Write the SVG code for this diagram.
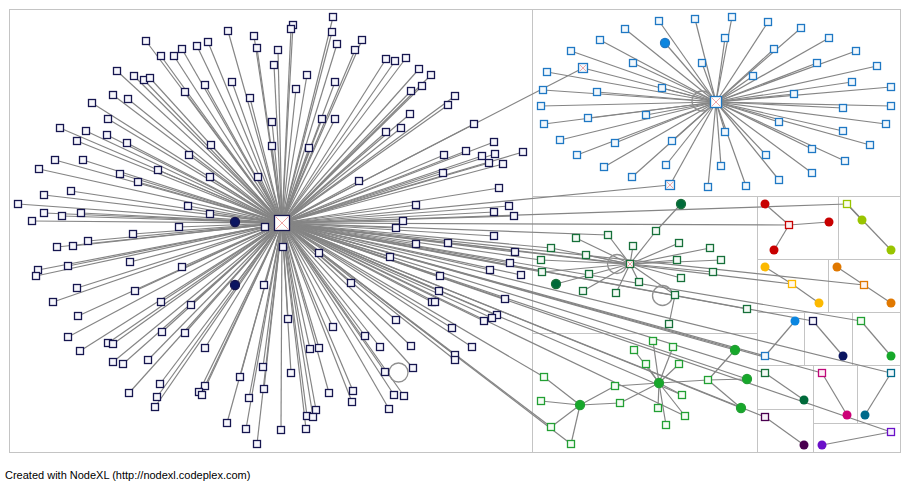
<svg xmlns="http://www.w3.org/2000/svg" xmlns:xlink="http://www.w3.org/1999/xlink" width="909" height="485" viewBox="0 0 909 485">
<style>
.b{stroke:#c4c4c4;stroke-width:1;fill:none}
.cL{fill:#f6f6fc;stroke:#16164f;stroke-width:1.3}
.cB{fill:#f2f8fd;stroke:#1f78c4;stroke-width:1.3}
.cG{fill:#f3faf5;stroke:#17703a;stroke-width:1.3}
.cP{fill:#f5fcf5;stroke:#22a034;stroke-width:1.3}
.dN{fill:#0b1561}.dB{fill:#0b86e0}.dG{fill:#006a3a}.dP{fill:#16a82a}
.x{stroke:#f0a8a8;stroke-width:1;fill:none}
.lp{fill:none;stroke:#909090;stroke-width:1.3}
text{font-family:"Liberation Sans",Arial,sans-serif;font-size:11px;fill:#000}
</style>
<defs>
<rect id="s" x="-3.5" y="-3.5" width="7" height="7"/>
<circle id="d" r="4.5"/>
</defs>
<rect width="909" height="485" fill="#fff"/>
<g id="borders" class="b">
<rect x="9.5" y="9.5" width="891" height="443"/>
<path d="M532.5 9.5V452.5M532.5 196.5H900.5M757.5 196.5V452.5M532.5 333.5H757.5M838.5 196.5V259.5M757.5 259.5H900.5M828.5 259.5V312.5M757.5 312.5H900.5M804.5 312.5V365.5M852.5 312.5V365.5M757.5 365.5H900.5M813.5 365.5V452.5M857.5 365.5V423.5M757.5 409.5H813.5M813.5 423.5H900.5"/>
</g>
<g id="connectors" stroke="#858585" stroke-width="1.2">
<line x1="282" y1="223" x2="146" y2="41"/><line x1="282" y1="223" x2="161" y2="56"/><line x1="282" y1="223" x2="174" y2="56"/><line x1="282" y1="223" x2="182" y2="49"/><line x1="282" y1="223" x2="197" y2="46"/><line x1="282" y1="223" x2="208" y2="42"/><line x1="282" y1="223" x2="228" y2="31"/><line x1="282" y1="223" x2="254" y2="36"/><line x1="282" y1="223" x2="257" y2="48"/><line x1="282" y1="223" x2="278" y2="50"/>
<line x1="282" y1="223" x2="274" y2="65"/><line x1="282" y1="223" x2="117" y2="71"/><line x1="282" y1="223" x2="134" y2="76"/><line x1="282" y1="223" x2="144" y2="80"/><line x1="282" y1="223" x2="150" y2="78"/><line x1="282" y1="223" x2="185" y2="92"/><line x1="282" y1="223" x2="205" y2="85"/><line x1="282" y1="223" x2="232" y2="82"/><line x1="282" y1="223" x2="250" y2="98"/><line x1="282" y1="223" x2="272" y2="122"/>
<line x1="282" y1="223" x2="272" y2="146"/><line x1="282" y1="223" x2="258" y2="177"/><line x1="282" y1="223" x2="113" y2="95"/><line x1="282" y1="223" x2="128" y2="99"/><line x1="282" y1="223" x2="92" y2="103"/><line x1="282" y1="223" x2="108" y2="119"/><line x1="282" y1="223" x2="60" y2="128"/><line x1="282" y1="223" x2="86" y2="131"/><line x1="282" y1="223" x2="107" y2="135"/><line x1="282" y1="223" x2="77" y2="141"/>
<line x1="282" y1="223" x2="127" y2="143"/><line x1="282" y1="223" x2="211" y2="145"/><line x1="282" y1="223" x2="189" y2="155"/><line x1="282" y1="223" x2="55" y2="160"/><line x1="282" y1="223" x2="83" y2="160"/><line x1="282" y1="223" x2="158" y2="170"/><line x1="282" y1="223" x2="39" y2="169"/><line x1="282" y1="223" x2="120" y2="174"/><line x1="282" y1="223" x2="210" y2="177"/><line x1="282" y1="223" x2="138" y2="182"/>
<line x1="282" y1="223" x2="71" y2="191"/><line x1="282" y1="223" x2="44" y2="195"/><line x1="282" y1="223" x2="18" y2="204"/><line x1="282" y1="223" x2="188" y2="206"/><line x1="282" y1="223" x2="44" y2="213"/><line x1="282" y1="223" x2="62" y2="216"/><line x1="282" y1="223" x2="81" y2="213"/><line x1="282" y1="223" x2="210" y2="214"/><line x1="282" y1="223" x2="32" y2="221"/><line x1="282" y1="223" x2="179" y2="227"/>
<line x1="282" y1="223" x2="265" y2="227"/><line x1="282" y1="223" x2="333" y2="17"/><line x1="282" y1="223" x2="293" y2="25"/><line x1="282" y1="223" x2="291" y2="29"/><line x1="282" y1="223" x2="332" y2="32"/><line x1="282" y1="223" x2="337" y2="44"/><line x1="282" y1="223" x2="362" y2="40"/><line x1="282" y1="223" x2="355" y2="50"/><line x1="282" y1="223" x2="307" y2="75"/><line x1="282" y1="223" x2="335" y2="82"/>
<line x1="282" y1="223" x2="296" y2="89"/><line x1="282" y1="223" x2="386" y2="59"/><line x1="282" y1="223" x2="395" y2="61"/><line x1="282" y1="223" x2="406" y2="58"/><line x1="282" y1="223" x2="419" y2="69"/><line x1="282" y1="223" x2="431" y2="75"/><line x1="282" y1="223" x2="422" y2="86"/><line x1="282" y1="223" x2="411" y2="91"/><line x1="282" y1="223" x2="455" y2="96"/><line x1="282" y1="223" x2="448" y2="105"/>
<line x1="282" y1="223" x2="410" y2="114"/><line x1="282" y1="223" x2="401" y2="128"/><line x1="282" y1="223" x2="386" y2="132"/><line x1="282" y1="223" x2="322" y2="119"/><line x1="282" y1="223" x2="335" y2="119"/><line x1="282" y1="223" x2="309" y2="148"/><line x1="282" y1="223" x2="474" y2="124"/><line x1="282" y1="223" x2="494" y2="142"/><line x1="282" y1="223" x2="466" y2="151"/><line x1="282" y1="223" x2="444" y2="155"/>
<line x1="282" y1="223" x2="482" y2="156"/><line x1="282" y1="223" x2="495" y2="154"/><line x1="282" y1="223" x2="489" y2="163"/><line x1="282" y1="223" x2="503" y2="164"/><line x1="282" y1="223" x2="523" y2="152"/><line x1="282" y1="223" x2="443" y2="173"/><line x1="282" y1="223" x2="359" y2="181"/><line x1="282" y1="223" x2="499" y2="188"/><line x1="282" y1="223" x2="416" y2="205"/><line x1="282" y1="223" x2="509" y2="206"/>
<line x1="282" y1="223" x2="494" y2="212"/><line x1="282" y1="223" x2="514" y2="216"/><line x1="282" y1="223" x2="403" y2="221"/><line x1="282" y1="223" x2="396" y2="228"/><line x1="282" y1="223" x2="494" y2="236"/><line x1="282" y1="223" x2="448" y2="243"/><line x1="282" y1="223" x2="416" y2="244"/><line x1="282" y1="223" x2="515" y2="252"/><line x1="282" y1="223" x2="283" y2="247"/><line x1="282" y1="223" x2="319" y2="253"/>
<line x1="282" y1="223" x2="390" y2="257"/><line x1="282" y1="223" x2="510" y2="263"/><line x1="282" y1="223" x2="490" y2="270"/><line x1="282" y1="223" x2="521" y2="275"/><line x1="282" y1="223" x2="440" y2="276"/><line x1="282" y1="223" x2="351" y2="283"/><line x1="282" y1="223" x2="439" y2="291"/><line x1="282" y1="223" x2="432" y2="302"/><line x1="282" y1="223" x2="435" y2="302"/><line x1="282" y1="223" x2="505" y2="299"/>
<line x1="282" y1="223" x2="497" y2="315"/><line x1="282" y1="223" x2="492" y2="318"/><line x1="282" y1="223" x2="484" y2="321"/><line x1="282" y1="223" x2="452" y2="328"/><line x1="282" y1="223" x2="396" y2="320"/><line x1="282" y1="223" x2="288" y2="319"/><line x1="282" y1="223" x2="333" y2="327"/><line x1="282" y1="223" x2="365" y2="336"/><line x1="282" y1="223" x2="380" y2="347"/><line x1="282" y1="223" x2="411" y2="346"/>
<line x1="282" y1="223" x2="472" y2="347"/><line x1="282" y1="223" x2="455" y2="355"/><line x1="282" y1="223" x2="455" y2="360"/><line x1="282" y1="223" x2="310" y2="349"/><line x1="282" y1="223" x2="319" y2="348"/><line x1="282" y1="223" x2="413" y2="368"/><line x1="282" y1="223" x2="385" y2="372"/><line x1="282" y1="223" x2="291" y2="373"/><line x1="282" y1="223" x2="329" y2="393"/><line x1="282" y1="223" x2="353" y2="391"/>
<line x1="282" y1="223" x2="352" y2="402"/><line x1="282" y1="223" x2="394" y2="395"/><line x1="282" y1="223" x2="404" y2="396"/><line x1="282" y1="223" x2="389" y2="409"/><line x1="282" y1="223" x2="316" y2="410"/><line x1="282" y1="223" x2="307" y2="416"/><line x1="282" y1="223" x2="313" y2="417"/><line x1="282" y1="223" x2="306" y2="429"/><line x1="282" y1="223" x2="281" y2="430"/><line x1="282" y1="223" x2="133" y2="234"/>
<line x1="282" y1="223" x2="88" y2="241"/><line x1="282" y1="223" x2="73" y2="246"/><line x1="282" y1="223" x2="57" y2="247"/><line x1="282" y1="223" x2="38" y2="270"/><line x1="282" y1="223" x2="36" y2="276"/><line x1="282" y1="223" x2="68" y2="266"/><line x1="282" y1="223" x2="130" y2="262"/><line x1="282" y1="223" x2="182" y2="267"/><line x1="282" y1="223" x2="77" y2="288"/><line x1="282" y1="223" x2="135" y2="291"/>
<line x1="282" y1="223" x2="53" y2="302"/><line x1="282" y1="223" x2="161" y2="302"/><line x1="282" y1="223" x2="191" y2="305"/><line x1="282" y1="223" x2="264" y2="285"/><line x1="282" y1="223" x2="78" y2="316"/><line x1="282" y1="223" x2="68" y2="337"/><line x1="282" y1="223" x2="162" y2="332"/><line x1="282" y1="223" x2="185" y2="333"/><line x1="282" y1="223" x2="108" y2="343"/><line x1="282" y1="223" x2="113" y2="344"/>
<line x1="282" y1="223" x2="80" y2="351"/><line x1="282" y1="223" x2="205" y2="348"/><line x1="282" y1="223" x2="113" y2="362"/><line x1="282" y1="223" x2="123" y2="364"/><line x1="282" y1="223" x2="148" y2="360"/><line x1="282" y1="223" x2="263" y2="367"/><line x1="282" y1="223" x2="240" y2="377"/><line x1="282" y1="223" x2="129" y2="393"/><line x1="282" y1="223" x2="160" y2="384"/><line x1="282" y1="223" x2="157" y2="397"/>
<line x1="282" y1="223" x2="155" y2="407"/><line x1="282" y1="223" x2="205" y2="386"/><line x1="282" y1="223" x2="199" y2="392"/><line x1="282" y1="223" x2="202" y2="395"/><line x1="282" y1="223" x2="249" y2="398"/><line x1="282" y1="223" x2="264" y2="389"/><line x1="282" y1="223" x2="227" y2="423"/><line x1="282" y1="223" x2="246" y2="429"/><line x1="282" y1="223" x2="257" y2="444"/><line x1="282" y1="223" x2="235" y2="222"/>
<line x1="282" y1="223" x2="235" y2="285"/>
<line x1="282" y1="223" x2="583" y2="68"/><line x1="282" y1="223" x2="670" y2="185"/><line x1="282" y1="223" x2="608" y2="235"/><line x1="282" y1="223" x2="551" y2="248"/><line x1="282" y1="223" x2="541" y2="260"/><line x1="282" y1="223" x2="542" y2="272"/><line x1="282" y1="223" x2="630" y2="264"/><line x1="282" y1="223" x2="747" y2="309"/>
<line x1="282" y1="223" x2="847" y2="204"/><line x1="282" y1="223" x2="789" y2="225"/><line x1="282" y1="223" x2="792" y2="284"/><line x1="282" y1="223" x2="864" y2="285"/><line x1="282" y1="223" x2="813" y2="321"/><line x1="282" y1="223" x2="861" y2="321"/><line x1="282" y1="223" x2="765" y2="356"/><line x1="282" y1="223" x2="891" y2="373"/><line x1="282" y1="223" x2="822" y2="373"/><line x1="282" y1="223" x2="765" y2="373"/><line x1="282" y1="223" x2="765" y2="417"/><line x1="282" y1="223" x2="891" y2="432"/>
<line x1="282" y1="223" x2="544" y2="377"/><line x1="282" y1="223" x2="551" y2="427"/><line x1="282" y1="223" x2="571" y2="444"/><line x1="282" y1="223" x2="682" y2="395"/><line x1="282" y1="223" x2="685" y2="416"/><line x1="282" y1="223" x2="735" y2="350"/><line x1="282" y1="223" x2="747" y2="379"/><line x1="282" y1="223" x2="741" y2="408"/>
<line x1="716" y1="102" x2="659" y2="21"/><line x1="716" y1="102" x2="695" y2="19"/><line x1="716" y1="102" x2="732" y2="17"/><line x1="716" y1="102" x2="768" y2="22"/><line x1="716" y1="102" x2="801" y2="28"/><line x1="716" y1="102" x2="829" y2="38"/><line x1="716" y1="102" x2="856" y2="51"/><line x1="716" y1="102" x2="877" y2="66"/><line x1="716" y1="102" x2="891" y2="87"/><line x1="716" y1="102" x2="891" y2="106"/>
<line x1="716" y1="102" x2="886" y2="124"/><line x1="716" y1="102" x2="870" y2="145"/><line x1="716" y1="102" x2="845" y2="161"/><line x1="716" y1="102" x2="812" y2="173"/><line x1="716" y1="102" x2="779" y2="180"/><line x1="716" y1="102" x2="746" y2="186"/><line x1="716" y1="102" x2="708" y2="187"/><line x1="716" y1="102" x2="632" y2="177"/><line x1="716" y1="102" x2="604" y2="167"/><line x1="716" y1="102" x2="577" y2="155"/>
<line x1="716" y1="102" x2="560" y2="140"/><line x1="716" y1="102" x2="544" y2="124"/><line x1="716" y1="102" x2="541" y2="106"/><line x1="716" y1="102" x2="543" y2="90"/><line x1="716" y1="102" x2="547" y2="72"/><line x1="716" y1="102" x2="571" y2="51"/><line x1="716" y1="102" x2="600" y2="40"/><line x1="716" y1="102" x2="625" y2="29"/><line x1="716" y1="102" x2="633" y2="63"/><line x1="716" y1="102" x2="702" y2="63"/>
<line x1="716" y1="102" x2="725" y2="38"/><line x1="716" y1="102" x2="774" y2="49"/><line x1="716" y1="102" x2="817" y2="63"/><line x1="716" y1="102" x2="753" y2="76"/><line x1="716" y1="102" x2="852" y2="82"/><line x1="716" y1="102" x2="794" y2="94"/><line x1="716" y1="102" x2="843" y2="108"/><line x1="716" y1="102" x2="779" y2="122"/><line x1="716" y1="102" x2="843" y2="131"/><line x1="716" y1="102" x2="812" y2="149"/>
<line x1="716" y1="102" x2="766" y2="155"/><line x1="716" y1="102" x2="721" y2="166"/><line x1="716" y1="102" x2="725" y2="132"/><line x1="716" y1="102" x2="672" y2="141"/><line x1="716" y1="102" x2="666" y2="165"/><line x1="716" y1="102" x2="615" y2="143"/><line x1="716" y1="102" x2="588" y2="118"/><line x1="716" y1="102" x2="646" y2="115"/><line x1="716" y1="102" x2="597" y2="92"/><line x1="716" y1="102" x2="662" y2="88"/>
<line x1="716" y1="102" x2="583" y2="68"/><line x1="716" y1="102" x2="670" y2="185"/><line x1="716" y1="102" x2="665" y2="43"/>
<line x1="630" y1="264" x2="656" y2="231"/><line x1="656" y1="231" x2="681" y2="204"/><line x1="630" y1="264" x2="608" y2="235"/><line x1="630" y1="264" x2="576" y2="238"/><line x1="630" y1="264" x2="551" y2="248"/><line x1="630" y1="264" x2="586" y2="255"/><line x1="630" y1="264" x2="541" y2="260"/><line x1="630" y1="264" x2="542" y2="272"/><line x1="630" y1="264" x2="583" y2="291"/>
<line x1="630" y1="264" x2="616" y2="293"/><line x1="630" y1="264" x2="633" y2="246"/><line x1="630" y1="264" x2="639" y2="282"/><line x1="630" y1="264" x2="679" y2="243"/><line x1="630" y1="264" x2="710" y2="248"/><line x1="630" y1="264" x2="677" y2="260"/><line x1="630" y1="264" x2="721" y2="260"/><line x1="630" y1="264" x2="681" y2="278"/><line x1="630" y1="264" x2="713" y2="272"/><line x1="630" y1="264" x2="675" y2="295"/>
<line x1="675" y1="295" x2="669" y2="324"/><line x1="630" y1="264" x2="556" y2="284"/>
<line x1="659" y1="383" x2="653" y2="341"/><line x1="659" y1="383" x2="673" y2="347"/><line x1="659" y1="383" x2="634" y2="350"/><line x1="659" y1="383" x2="646" y2="364"/><line x1="659" y1="383" x2="679" y2="364"/><line x1="659" y1="383" x2="708" y2="380"/><line x1="659" y1="383" x2="682" y2="395"/><line x1="659" y1="383" x2="685" y2="416"/><line x1="659" y1="383" x2="658" y2="408"/><line x1="659" y1="383" x2="666" y2="425"/>
<line x1="659" y1="383" x2="615" y2="386"/><line x1="659" y1="383" x2="620" y2="403"/><line x1="580" y1="405" x2="615" y2="386"/><line x1="580" y1="405" x2="620" y2="403"/><line x1="580" y1="405" x2="544" y2="377"/><line x1="580" y1="405" x2="541" y2="401"/><line x1="580" y1="405" x2="551" y2="427"/><line x1="580" y1="405" x2="571" y2="444"/><line x1="708" y1="380" x2="735" y2="350"/><line x1="708" y1="380" x2="747" y2="379"/>
<line x1="708" y1="380" x2="741" y2="408"/>
<line x1="789" y1="225" x2="765" y2="204"/><line x1="789" y1="225" x2="829" y2="222"/><line x1="789" y1="225" x2="774" y2="250"/><line x1="847" y1="204" x2="862" y2="220"/><line x1="847" y1="204" x2="891" y2="250"/><line x1="792" y1="284" x2="765" y2="267"/><line x1="792" y1="284" x2="819" y2="303"/><line x1="864" y1="285" x2="837" y2="267"/><line x1="864" y1="285" x2="891" y2="303"/>
<line x1="795" y1="321" x2="765" y2="356"/><line x1="813" y1="321" x2="843" y2="356"/><line x1="861" y1="321" x2="891" y2="356"/><line x1="765" y1="373" x2="804" y2="400"/><line x1="822" y1="373" x2="847" y2="415"/><line x1="891" y1="373" x2="865" y2="415"/><line x1="765" y1="417" x2="804" y2="445"/><line x1="891" y1="432" x2="822" y2="445"/>
</g>
<g id="loops" class="lp">
<circle cx="398.5" cy="372.5" r="9.5"/>
<circle cx="702" cy="101" r="10"/>
<circle cx="617" cy="264" r="9.5"/>
<circle cx="662.5" cy="295.5" r="10"/>
</g>
<g id="left-cluster" class="cL">
<g id="L1"><use href="#s" x="146" y="41"/></g><g id="L2"><use href="#s" x="161" y="56"/></g><g id="L3"><use href="#s" x="174" y="56"/></g><g id="L4"><use href="#s" x="182" y="49"/></g><g id="L5"><use href="#s" x="197" y="46"/></g><g id="L6"><use href="#s" x="208" y="42"/></g><g id="L7"><use href="#s" x="228" y="31"/></g><g id="L8"><use href="#s" x="254" y="36"/></g><g id="L9"><use href="#s" x="257" y="48"/></g><g id="L10"><use href="#s" x="278" y="50"/></g>
<g id="L11"><use href="#s" x="274" y="65"/></g><g id="L12"><use href="#s" x="117" y="71"/></g><g id="L13"><use href="#s" x="134" y="76"/></g><g id="L14"><use href="#s" x="144" y="80"/></g><g id="L15"><use href="#s" x="150" y="78"/></g><g id="L16"><use href="#s" x="185" y="92"/></g><g id="L17"><use href="#s" x="205" y="85"/></g><g id="L18"><use href="#s" x="232" y="82"/></g><g id="L19"><use href="#s" x="250" y="98"/></g><g id="L20"><use href="#s" x="272" y="122"/></g>
<g id="L21"><use href="#s" x="272" y="146"/></g><g id="L22"><use href="#s" x="258" y="177"/></g><g id="L23"><use href="#s" x="113" y="95"/></g><g id="L24"><use href="#s" x="128" y="99"/></g><g id="L25"><use href="#s" x="92" y="103"/></g><g id="L26"><use href="#s" x="108" y="119"/></g><g id="L27"><use href="#s" x="60" y="128"/></g><g id="L28"><use href="#s" x="86" y="131"/></g><g id="L29"><use href="#s" x="107" y="135"/></g><g id="L30"><use href="#s" x="77" y="141"/></g>
<g id="L31"><use href="#s" x="127" y="143"/></g><g id="L32"><use href="#s" x="211" y="145"/></g><g id="L33"><use href="#s" x="189" y="155"/></g><g id="L34"><use href="#s" x="55" y="160"/></g><g id="L35"><use href="#s" x="83" y="160"/></g><g id="L36"><use href="#s" x="158" y="170"/></g><g id="L37"><use href="#s" x="39" y="169"/></g><g id="L38"><use href="#s" x="120" y="174"/></g><g id="L39"><use href="#s" x="210" y="177"/></g><g id="L40"><use href="#s" x="138" y="182"/></g>
<g id="L41"><use href="#s" x="71" y="191"/></g><g id="L42"><use href="#s" x="44" y="195"/></g><g id="L43"><use href="#s" x="18" y="204"/></g><g id="L44"><use href="#s" x="188" y="206"/></g><g id="L45"><use href="#s" x="44" y="213"/></g><g id="L46"><use href="#s" x="62" y="216"/></g><g id="L47"><use href="#s" x="81" y="213"/></g><g id="L48"><use href="#s" x="210" y="214"/></g><g id="L49"><use href="#s" x="32" y="221"/></g><g id="L50"><use href="#s" x="179" y="227"/></g>
<g id="L51"><use href="#s" x="265" y="227"/></g><g id="L52"><use href="#s" x="333" y="17"/></g><g id="L53"><use href="#s" x="293" y="25"/></g><g id="L54"><use href="#s" x="291" y="29"/></g><g id="L55"><use href="#s" x="332" y="32"/></g><g id="L56"><use href="#s" x="337" y="44"/></g><g id="L57"><use href="#s" x="362" y="40"/></g><g id="L58"><use href="#s" x="355" y="50"/></g><g id="L59"><use href="#s" x="307" y="75"/></g><g id="L60"><use href="#s" x="335" y="82"/></g>
<g id="L61"><use href="#s" x="296" y="89"/></g><g id="L62"><use href="#s" x="386" y="59"/></g><g id="L63"><use href="#s" x="395" y="61"/></g><g id="L64"><use href="#s" x="406" y="58"/></g><g id="L65"><use href="#s" x="419" y="69"/></g><g id="L66"><use href="#s" x="431" y="75"/></g><g id="L67"><use href="#s" x="422" y="86"/></g><g id="L68"><use href="#s" x="411" y="91"/></g><g id="L69"><use href="#s" x="455" y="96"/></g><g id="L70"><use href="#s" x="448" y="105"/></g>
<g id="L71"><use href="#s" x="410" y="114"/></g><g id="L72"><use href="#s" x="401" y="128"/></g><g id="L73"><use href="#s" x="386" y="132"/></g><g id="L74"><use href="#s" x="322" y="119"/></g><g id="L75"><use href="#s" x="335" y="119"/></g><g id="L76"><use href="#s" x="309" y="148"/></g><g id="L77"><use href="#s" x="474" y="124"/></g><g id="L78"><use href="#s" x="494" y="142"/></g><g id="L79"><use href="#s" x="466" y="151"/></g><g id="L80"><use href="#s" x="444" y="155"/></g>
<g id="L81"><use href="#s" x="482" y="156"/></g><g id="L82"><use href="#s" x="495" y="154"/></g><g id="L83"><use href="#s" x="489" y="163"/></g><g id="L84"><use href="#s" x="503" y="164"/></g><g id="L85"><use href="#s" x="523" y="152"/></g><g id="L86"><use href="#s" x="443" y="173"/></g><g id="L87"><use href="#s" x="359" y="181"/></g><g id="L88"><use href="#s" x="499" y="188"/></g><g id="L89"><use href="#s" x="416" y="205"/></g><g id="L90"><use href="#s" x="509" y="206"/></g>
<g id="L91"><use href="#s" x="494" y="212"/></g><g id="L92"><use href="#s" x="514" y="216"/></g><g id="L93"><use href="#s" x="403" y="221"/></g><g id="L94"><use href="#s" x="396" y="228"/></g><g id="L95"><use href="#s" x="494" y="236"/></g><g id="L96"><use href="#s" x="448" y="243"/></g><g id="L97"><use href="#s" x="416" y="244"/></g><g id="L98"><use href="#s" x="515" y="252"/></g><g id="L99"><use href="#s" x="283" y="247"/></g><g id="L100"><use href="#s" x="319" y="253"/></g>
<g id="L101"><use href="#s" x="390" y="257"/></g><g id="L102"><use href="#s" x="510" y="263"/></g><g id="L103"><use href="#s" x="490" y="270"/></g><g id="L104"><use href="#s" x="521" y="275"/></g><g id="L105"><use href="#s" x="440" y="276"/></g><g id="L106"><use href="#s" x="351" y="283"/></g><g id="L107"><use href="#s" x="439" y="291"/></g><g id="L108"><use href="#s" x="432" y="302"/></g><g id="L109"><use href="#s" x="435" y="302"/></g><g id="L110"><use href="#s" x="505" y="299"/></g>
<g id="L111"><use href="#s" x="497" y="315"/></g><g id="L112"><use href="#s" x="492" y="318"/></g><g id="L113"><use href="#s" x="484" y="321"/></g><g id="L114"><use href="#s" x="452" y="328"/></g><g id="L115"><use href="#s" x="396" y="320"/></g><g id="L116"><use href="#s" x="288" y="319"/></g><g id="L117"><use href="#s" x="333" y="327"/></g><g id="L118"><use href="#s" x="365" y="336"/></g><g id="L119"><use href="#s" x="380" y="347"/></g><g id="L120"><use href="#s" x="411" y="346"/></g>
<g id="L121"><use href="#s" x="472" y="347"/></g><g id="L122"><use href="#s" x="455" y="355"/></g><g id="L123"><use href="#s" x="455" y="360"/></g><g id="L124"><use href="#s" x="310" y="349"/></g><g id="L125"><use href="#s" x="319" y="348"/></g><g id="L126"><use href="#s" x="413" y="368"/></g><g id="L127"><use href="#s" x="385" y="372"/></g><g id="L128"><use href="#s" x="291" y="373"/></g><g id="L129"><use href="#s" x="329" y="393"/></g><g id="L130"><use href="#s" x="353" y="391"/></g>
<g id="L131"><use href="#s" x="352" y="402"/></g><g id="L132"><use href="#s" x="394" y="395"/></g><g id="L133"><use href="#s" x="404" y="396"/></g><g id="L134"><use href="#s" x="389" y="409"/></g><g id="L135"><use href="#s" x="316" y="410"/></g><g id="L136"><use href="#s" x="307" y="416"/></g><g id="L137"><use href="#s" x="313" y="417"/></g><g id="L138"><use href="#s" x="306" y="429"/></g><g id="L139"><use href="#s" x="281" y="430"/></g><g id="L140"><use href="#s" x="133" y="234"/></g>
<g id="L141"><use href="#s" x="88" y="241"/></g><g id="L142"><use href="#s" x="73" y="246"/></g><g id="L143"><use href="#s" x="57" y="247"/></g><g id="L144"><use href="#s" x="38" y="270"/></g><g id="L145"><use href="#s" x="36" y="276"/></g><g id="L146"><use href="#s" x="68" y="266"/></g><g id="L147"><use href="#s" x="130" y="262"/></g><g id="L148"><use href="#s" x="182" y="267"/></g><g id="L149"><use href="#s" x="77" y="288"/></g><g id="L150"><use href="#s" x="135" y="291"/></g>
<g id="L151"><use href="#s" x="53" y="302"/></g><g id="L152"><use href="#s" x="161" y="302"/></g><g id="L153"><use href="#s" x="191" y="305"/></g><g id="L154"><use href="#s" x="264" y="285"/></g><g id="L155"><use href="#s" x="78" y="316"/></g><g id="L156"><use href="#s" x="68" y="337"/></g><g id="L157"><use href="#s" x="162" y="332"/></g><g id="L158"><use href="#s" x="185" y="333"/></g><g id="L159"><use href="#s" x="108" y="343"/></g><g id="L160"><use href="#s" x="113" y="344"/></g>
<g id="L161"><use href="#s" x="80" y="351"/></g><g id="L162"><use href="#s" x="205" y="348"/></g><g id="L163"><use href="#s" x="113" y="362"/></g><g id="L164"><use href="#s" x="123" y="364"/></g><g id="L165"><use href="#s" x="148" y="360"/></g><g id="L166"><use href="#s" x="263" y="367"/></g><g id="L167"><use href="#s" x="240" y="377"/></g><g id="L168"><use href="#s" x="129" y="393"/></g><g id="L169"><use href="#s" x="160" y="384"/></g><g id="L170"><use href="#s" x="157" y="397"/></g>
<g id="L171"><use href="#s" x="155" y="407"/></g><g id="L172"><use href="#s" x="205" y="386"/></g><g id="L173"><use href="#s" x="199" y="392"/></g><g id="L174"><use href="#s" x="202" y="395"/></g><g id="L175"><use href="#s" x="249" y="398"/></g><g id="L176"><use href="#s" x="264" y="389"/></g><g id="L177"><use href="#s" x="227" y="423"/></g><g id="L178"><use href="#s" x="246" y="429"/></g><g id="L179"><use href="#s" x="257" y="444"/></g>
<g id="LD1" class="dN"><use href="#d" x="235" y="222"/></g><g id="LD2" class="dN"><use href="#d" x="235" y="285"/></g>
<g id="hub-left"><rect x="274.5" y="215.5" width="15" height="15" fill="#fff"/><path class="x" d="M275.5 216.5L288.5 229.5M288.5 216.5L275.5 229.5"/></g>
</g>
<g id="blue-cluster" class="cB">
<g id="B1"><use href="#s" x="659" y="21"/></g><g id="B2"><use href="#s" x="695" y="19"/></g><g id="B3"><use href="#s" x="732" y="17"/></g><g id="B4"><use href="#s" x="768" y="22"/></g><g id="B5"><use href="#s" x="801" y="28"/></g><g id="B6"><use href="#s" x="829" y="38"/></g><g id="B7"><use href="#s" x="856" y="51"/></g><g id="B8"><use href="#s" x="877" y="66"/></g><g id="B9"><use href="#s" x="891" y="87"/></g><g id="B10"><use href="#s" x="891" y="106"/></g>
<g id="B11"><use href="#s" x="886" y="124"/></g><g id="B12"><use href="#s" x="870" y="145"/></g><g id="B13"><use href="#s" x="845" y="161"/></g><g id="B14"><use href="#s" x="812" y="173"/></g><g id="B15"><use href="#s" x="779" y="180"/></g><g id="B16"><use href="#s" x="746" y="186"/></g><g id="B17"><use href="#s" x="708" y="187"/></g><g id="B18"><use href="#s" x="632" y="177"/></g><g id="B19"><use href="#s" x="604" y="167"/></g><g id="B20"><use href="#s" x="577" y="155"/></g>
<g id="B21"><use href="#s" x="560" y="140"/></g><g id="B22"><use href="#s" x="544" y="124"/></g><g id="B23"><use href="#s" x="541" y="106"/></g><g id="B24"><use href="#s" x="543" y="90"/></g><g id="B25"><use href="#s" x="547" y="72"/></g><g id="B26"><use href="#s" x="571" y="51"/></g><g id="B27"><use href="#s" x="600" y="40"/></g><g id="B28"><use href="#s" x="625" y="29"/></g><g id="B29"><use href="#s" x="633" y="63"/></g><g id="B30"><use href="#s" x="702" y="63"/></g>
<g id="B31"><use href="#s" x="725" y="38"/></g><g id="B32"><use href="#s" x="774" y="49"/></g><g id="B33"><use href="#s" x="817" y="63"/></g><g id="B34"><use href="#s" x="753" y="76"/></g><g id="B35"><use href="#s" x="852" y="82"/></g><g id="B36"><use href="#s" x="794" y="94"/></g><g id="B37"><use href="#s" x="843" y="108"/></g><g id="B38"><use href="#s" x="779" y="122"/></g><g id="B39"><use href="#s" x="843" y="131"/></g><g id="B40"><use href="#s" x="812" y="149"/></g>
<g id="B41"><use href="#s" x="766" y="155"/></g><g id="B42"><use href="#s" x="721" y="166"/></g><g id="B43"><use href="#s" x="725" y="132"/></g><g id="B44"><use href="#s" x="672" y="141"/></g><g id="B45"><use href="#s" x="666" y="165"/></g><g id="B46"><use href="#s" x="615" y="143"/></g><g id="B47"><use href="#s" x="588" y="118"/></g><g id="B48"><use href="#s" x="646" y="115"/></g><g id="B49"><use href="#s" x="597" y="92"/></g><g id="B50"><use href="#s" x="662" y="88"/></g>
<g id="B51"><rect x="578.5" y="63.5" width="9" height="9"/><path class="x" d="M579.5 64.5L586.5 71.5M586.5 64.5L579.5 71.5"/></g>
<g id="B52"><rect x="665.5" y="180.5" width="9" height="9"/><path class="x" d="M666.5 181.5L673.5 188.5M673.5 181.5L666.5 188.5"/></g>
<g id="BD1" class="dB"><use href="#d" x="665" y="43"/></g>
<g id="hub-blue"><rect x="710.5" y="96.5" width="11" height="11" fill="#fff"/><path class="x" d="M711.5 97.5L720.5 106.5M720.5 97.5L711.5 106.5"/></g>
</g>
<g id="green-cluster" class="cG">
<g id="G1"><use href="#s" x="656" y="231"/></g><g id="G2"><use href="#s" x="608" y="235"/></g><g id="G3"><use href="#s" x="576" y="238"/></g><g id="G4"><use href="#s" x="551" y="248"/></g><g id="G5"><use href="#s" x="586" y="255"/></g><g id="G6"><use href="#s" x="541" y="260"/></g><g id="G7"><use href="#s" x="542" y="272"/></g><g id="G8"><use href="#s" x="589" y="274"/></g><g id="G9"><use href="#s" x="583" y="291"/></g><g id="G10"><use href="#s" x="616" y="293"/></g>
<g id="G11"><use href="#s" x="633" y="246"/></g><g id="G12"><use href="#s" x="639" y="282"/></g><g id="G13"><use href="#s" x="679" y="243"/></g><g id="G14"><use href="#s" x="710" y="248"/></g><g id="G15"><use href="#s" x="677" y="260"/></g><g id="G16"><use href="#s" x="721" y="260"/></g><g id="G17"><use href="#s" x="681" y="278"/></g><g id="G18"><use href="#s" x="713" y="272"/></g><g id="G19"><use href="#s" x="675" y="295"/></g><g id="G20"><use href="#s" x="669" y="324"/></g>
<g id="G21"><use href="#s" x="747" y="309"/></g>
<g id="GD1" class="dG"><use href="#d" x="681" y="204"/></g><g id="GD2" class="dG"><use href="#d" x="556" y="284"/></g>
<g id="hub-green"><rect x="626.5" y="260.5" width="7" height="7" fill="#fff"/><path class="x" d="M627 261L633 267M633 261L627 267"/></g>
</g>
<g id="lightgreen-cluster" class="cP">
<g id="P1"><use href="#s" x="653" y="341"/></g><g id="P2"><use href="#s" x="673" y="347"/></g><g id="P3"><use href="#s" x="634" y="350"/></g><g id="P4"><use href="#s" x="646" y="364"/></g><g id="P5"><use href="#s" x="679" y="364"/></g><g id="P6"><use href="#s" x="708" y="380"/></g><g id="P7"><use href="#s" x="682" y="395"/></g><g id="P8"><use href="#s" x="685" y="416"/></g><g id="P9"><use href="#s" x="658" y="408"/></g><g id="P10"><use href="#s" x="666" y="425"/></g>
<g id="P11"><use href="#s" x="615" y="386"/></g><g id="P12"><use href="#s" x="620" y="403"/></g><g id="P13"><use href="#s" x="544" y="377"/></g><g id="P14"><use href="#s" x="541" y="401"/></g><g id="P15"><use href="#s" x="551" y="427"/></g><g id="P16"><use href="#s" x="571" y="444"/></g>
<g id="PD1" class="dP"><use href="#d" x="659" y="383"/></g><g id="PD2" class="dP"><use href="#d" x="580" y="405"/></g><g id="PD3" class="dP"><use href="#d" x="735" y="350"/></g><g id="PD4" class="dP"><use href="#d" x="747" y="379"/></g><g id="PD5" class="dP"><use href="#d" x="741" y="408"/></g>
</g>
<g id="small-clusters" stroke-width="1.3">
<g id="red-sq"><use href="#s" x="789" y="225" fill="#fdeeee" stroke="#c80000"/></g><g id="red-1"><use href="#d" x="765" y="204" fill="#c80000"/></g><g id="red-2"><use href="#d" x="829" y="222" fill="#c80000"/></g><g id="red-3"><use href="#d" x="774" y="250" fill="#c80000"/></g>
<g id="lime-sq"><use href="#s" x="847" y="204" fill="#fbfdf0" stroke="#99c400"/></g><g id="lime-1"><use href="#d" x="862" y="220" fill="#99c400"/></g><g id="lime-2"><use href="#d" x="891" y="250" fill="#99c400"/></g>
<g id="yel-sq"><use href="#s" x="792" y="284" fill="#fff8ee" stroke="#fcb900"/></g><g id="yel-1"><use href="#d" x="765" y="267" fill="#fcb900"/></g><g id="yel-2"><use href="#d" x="819" y="303" fill="#fcb900"/></g>
<g id="org-sq"><use href="#s" x="864" y="285" fill="#fdf3ee" stroke="#e07800"/></g><g id="org-1"><use href="#d" x="837" y="267" fill="#e07800"/></g><g id="org-2"><use href="#d" x="891" y="303" fill="#e07800"/></g>
<g id="blu-sq"><use href="#s" x="765" y="356" fill="#f2f8fd" stroke="#1f78c4"/></g><g id="blu-1"><use href="#d" x="795" y="321" fill="#0b86e0"/></g>
<g id="nav-sq"><use href="#s" x="813" y="321" fill="#f6f6fc" stroke="#16164f"/></g><g id="nav-1"><use href="#d" x="843" y="356" fill="#0b1561"/></g>
<g id="grn-sq"><use href="#s" x="861" y="321" fill="#f5fcf5" stroke="#22a034"/></g><g id="grn-1"><use href="#d" x="891" y="356" fill="#16a82a"/></g>
<g id="dkg-sq"><use href="#s" x="765" y="373" fill="#f3faf5" stroke="#17703a"/></g><g id="dkg-1"><use href="#d" x="804" y="400" fill="#006a3a"/></g>
<g id="mag-sq"><use href="#s" x="822" y="373" fill="#fdf0f6" stroke="#c0087a"/></g><g id="mag-1"><use href="#d" x="847" y="415" fill="#cc0077"/></g>
<g id="teal-sq"><use href="#s" x="891" y="373" fill="#f0f7fa" stroke="#006a8a"/></g><g id="teal-1"><use href="#d" x="865" y="415" fill="#006a8a"/></g>
<g id="pur-sq"><use href="#s" x="765" y="417" fill="#f8f0f8" stroke="#4a0050"/></g><g id="pur-1"><use href="#d" x="804" y="445" fill="#4a0050"/></g>
<g id="vio-sq"><use href="#s" x="891" y="432" fill="#f6f0fd" stroke="#6a10c8"/></g><g id="vio-1"><use href="#d" x="822" y="445" fill="#6a10c8"/></g>
</g>
<text x="5" y="479">Created with NodeXL (http://nodexl.codeplex.com)</text>
</svg>
